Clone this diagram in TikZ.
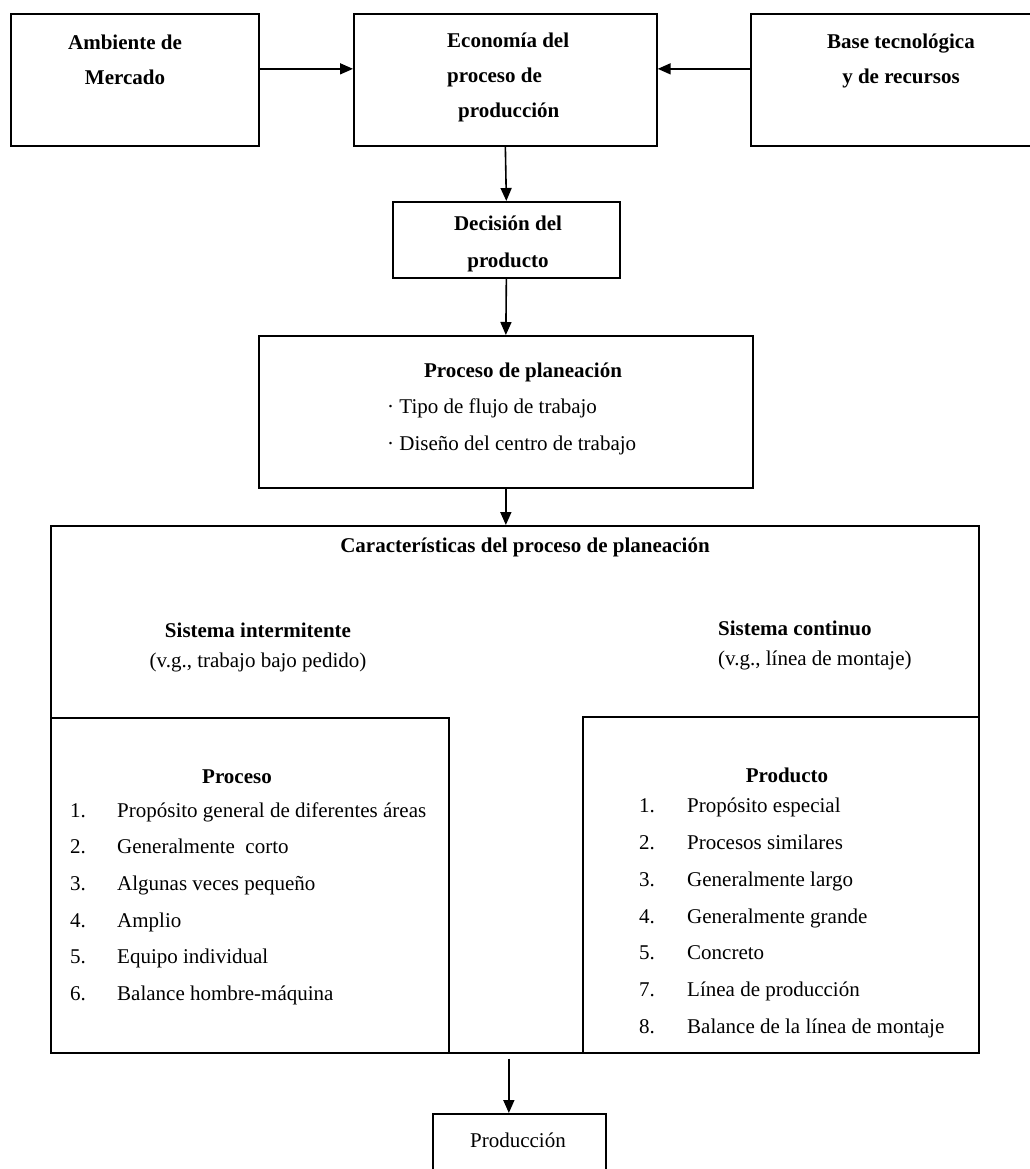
\documentclass[tikz,border=0pt]{standalone}
\usepackage{fontspec}
\setmainfont{Liberation Serif}
\usetikzlibrary{arrows.meta}
\begin{document}
\begin{tikzpicture}[x=1pt,y=-1pt,
  box/.style={draw,line width=1.7pt,inner sep=0pt,anchor=north west},
  txt/.style={inner sep=0pt,font=\fontsize{21}{35}\selectfont},
  btxt/.style={inner sep=0pt,font=\fontsize{21}{35}\selectfont\bfseries},
  arr/.style={line width=1.6pt,-{Triangle[length=13pt,width=11pt]}}]
\useasboundingbox (0,0) rectangle (1029,1169);
% boxes
\node[box,minimum width=248pt,minimum height=132pt] (amb) at (10,13) {};
\node[box,minimum width=303pt,minimum height=132pt] (eco) at (353,13) {};
\node[box,minimum width=280pt,minimum height=132pt] (base) at (750,13) {};
\node[box,minimum width=227pt,minimum height=76pt] (dec) at (392,201) {};
\node[box,minimum width=494pt,minimum height=152pt] (proc) at (258,335) {};
\node[box,minimum width=928pt,minimum height=527pt] (big) at (50,525) {};
\node[box,minimum width=398pt,minimum height=335pt] (left) at (50,717) {};
\node[box,minimum width=396pt,minimum height=336pt] (right) at (582,716) {};
\node[box,minimum width=173pt,minimum height=66pt] (prod) at (432,1113) {};
% texts
\node[btxt,align=center] (tamb) at (125,59.5) {Ambiente de\\Mercado};
\node[btxt,align=left,anchor=west] (teco) at (447,77.5) {Economía del\\proceso de\\\hspace*{11pt}producción};
\node[btxt,align=center] (tbase) at (901,60.5) {Base tecnológica\\y de recursos};
\node[btxt,align=center,font=\fontsize{21}{37}\selectfont\bfseries] (tdec) at (508,243.5) {Decisión del\\producto};
\node[btxt] (tproc) at (523,372) {Proceso de planeación};
\node[txt,align=left,anchor=west,font=\fontsize{21}{37}\selectfont] (tprocb) at (387,426.5) {· Tipo de flujo de trabajo\\· Diseño del centro de trabajo};
\node[btxt] (tbig) at (525,547) {Características del proceso de planeación};
\node[txt,align=center,font=\fontsize{21}{30}\selectfont] (tint) at (258,647) {\textbf{Sistema intermitente}\\(v.g., trabajo bajo pedido)};
\node[txt,align=left,anchor=west,font=\fontsize{21}{30}\selectfont] (tcon) at (718,645) {\textbf{Sistema continuo}\\(v.g., línea de montaje)};
\node[btxt] (tproceso) at (237,777) {Proceso};
\node[txt,align=left,anchor=west,font=\fontsize{21}{36.7}\selectfont] (llist) at (70,903.75) {%
\makebox[47pt][l]{1.}Propósito general de diferentes áreas\\
\makebox[47pt][l]{2.}Generalmente\ \ corto\\
\makebox[47pt][l]{3.}Algunas veces pequeño\\
\makebox[47pt][l]{4.}Amplio\\
\makebox[47pt][l]{5.}Equipo individual\\
\makebox[47pt][l]{6.}Balance hombre-máquina};
\node[btxt] (tproducto) at (787,775) {Producto};
\node[txt,align=left,anchor=west,font=\fontsize{21}{36.7}\selectfont] (rlist) at (639,918) {%
\makebox[48pt][l]{1.}Propósito especial\\
\makebox[48pt][l]{2.}Procesos similares\\
\makebox[48pt][l]{3.}Generalmente largo\\
\makebox[48pt][l]{4.}Generalmente grande\\
\makebox[48pt][l]{5.}Concreto\\
\makebox[48pt][l]{7.}Línea de producción\\
\makebox[48pt][l]{8.}Balance de la línea de montaje};
\node[txt] (tprod) at (518,1140) {Producción};
% connectors
\draw[arr] ([yshift=11pt]amb.east) -- ([yshift=11pt]eco.west);
\draw[arr] ([yshift=11pt]base.west) -- ([yshift=11pt]eco.east);
\draw[arr] (eco.south) -- (dec.north);
\draw[arr] (dec.south) -- (proc.north);
\draw[arr] (proc.south) -- (proc.south |- big.north);
\draw[arr] ([xshift=-6pt,yshift=-5pt]big.south) -- ([xshift=-6pt]big.south |- prod.north);
\end{tikzpicture}
\end{document}
